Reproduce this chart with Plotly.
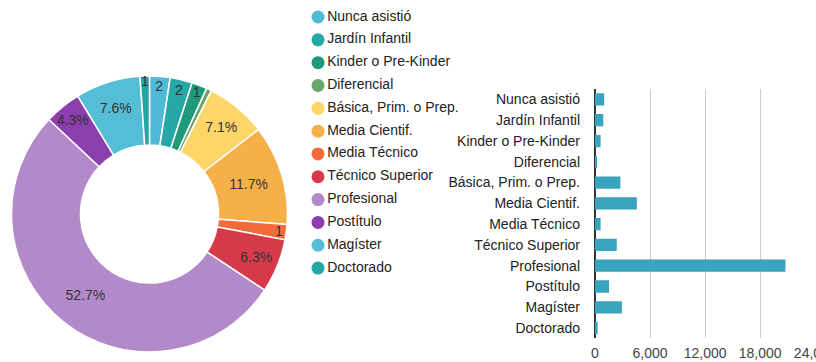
import math
import plotly.graph_objects as go

# Education levels (same order for the donut, the legend and the bars)
categories = [
    "Nunca asistió", "Jardín Infantil", "Kinder o Pre-Kinder", "Diferencial",
    "Básica, Prim. o Prep.", "Media Cientif.", "Media Técnico", "Técnico Superior",
    "Profesional", "Postítulo", "Magíster", "Doctorado",
]
# Share of each level in the donut (%)
pie_share = [2.4, 2.6, 1.8, 0.6, 7.1, 11.7, 1.8, 6.3, 52.7, 4.3, 7.6, 1.1]
# Number of people per level in the bar chart
bar_counts = [1005, 900, 610, 180, 2765, 4560, 610, 2370, 20750, 1535, 2930, 290]
# Bar axis ticks
x_ticks = [0, 6000, 12000, 18000, 24000]

slice_colors = [
    "#4FB9D6", "#26A8A8", "#1E9A7A", "#6AA56A", "#FDD66A", "#F5B04A",
    "#F26B3A", "#D63A4A", "#B38AC9", "#8B3FAE", "#55BED6", "#24A6A6",
]
bar_color = "#38A4BD"
FONT = "Arial, Liberation Sans, sans-serif"
FS = 14

# Slice labels: full percentage for wide slices, clipped to what fits the arc otherwise
ring_mid_px = 104
char_px = 6.5
pie_text = []
for s in pie_share:
    full = f"{s:.1f}%"
    if s >= 4:
        pie_text.append(full)
    else:
        arc = s / 100 * 2 * math.pi * ring_mid_px
        n = int(arc / char_px)
        pie_text.append(full[:n].rstrip("."))

fig = go.Figure()

fig.add_trace(go.Pie(
    labels=categories,
    values=pie_share,
    text=pie_text,
    texttemplate="%{text}",
    textposition="inside",
    insidetextorientation="horizontal",
    textfont=dict(family=FONT, size=FS, color="#333333"),
    sort=False,
    direction="clockwise",
    hole=0.5,
    marker=dict(colors=slice_colors, line=dict(color="white", width=1.5)),
    domain=dict(x=[0.0141, 0.3523], y=[0.0276, 0.790]),
    showlegend=False,
    hoverinfo="label+percent",
))

# Legend column: colored dots with the level names
fig.add_trace(go.Scatter(
    x=[0] * len(categories),
    y=categories,
    mode="markers+text",
    marker=dict(color=slice_colors, size=13, line=dict(width=0)),
    text=categories,
    textposition="middle right",
    textfont=dict(family=FONT, size=FS, color="#222222"),
    xaxis="x2",
    yaxis="y2",
    showlegend=False,
    hoverinfo="skip",
    cliponaxis=False,
))

# Horizontal bars
fig.add_trace(go.Bar(
    x=bar_counts,
    y=categories,
    orientation="h",
    marker=dict(color=bar_color, line=dict(width=0)),
    width=0.59,
    showlegend=False,
    hovertemplate="%{y}: %{x:,}<extra></extra>",
))

fig.update_layout(
    width=816,
    height=362,
    margin=dict(l=0, r=0, t=0, b=0, autoexpand=False),
    paper_bgcolor="white",
    plot_bgcolor="white",
    font=dict(family=FONT, size=FS, color="#222222"),
    uniformtext=dict(minsize=FS, mode="show"),
    xaxis=dict(
        domain=[595 / 816, 1.0],
        range=[0, 24080],
        tickvals=x_ticks,
        tickformat=",d",
        ticklabeloverflow="allow",
        automargin=False,
        showgrid=True,
        gridcolor="#CCCCCC",
        gridwidth=1,
        zeroline=True,
        zerolinecolor="#333333",
        zerolinewidth=1.5,
        showline=False,
        ticks="",
        ticklabelstandoff=5,
        tickfont=dict(family=FONT, size=FS, color="#444444"),
        fixedrange=True,
    ),
    yaxis=dict(
        domain=[0.065, 0.754],
        type="category",
        categoryorder="array",
        categoryarray=categories,
        autorange="reversed",
        automargin=False,
        showgrid=False,
        zeroline=False,
        showline=False,
        ticks="",
        ticklabelstandoff=14,
        tickfont=dict(family=FONT, size=FS, color="#222222"),
        fixedrange=True,
    ),
    xaxis2=dict(
        domain=[300 / 816, 470 / 816],
        range=[-18, 152],
        visible=False,
        automargin=False,
        fixedrange=True,
    ),
    yaxis2=dict(
        domain=[0.228, 0.9845],
        type="category",
        categoryorder="array",
        categoryarray=categories,
        range=[len(categories) - 0.5, -0.5],
        anchor="x2",
        visible=False,
        automargin=False,
        fixedrange=True,
    ),
)

fig.write_html("out.html")
